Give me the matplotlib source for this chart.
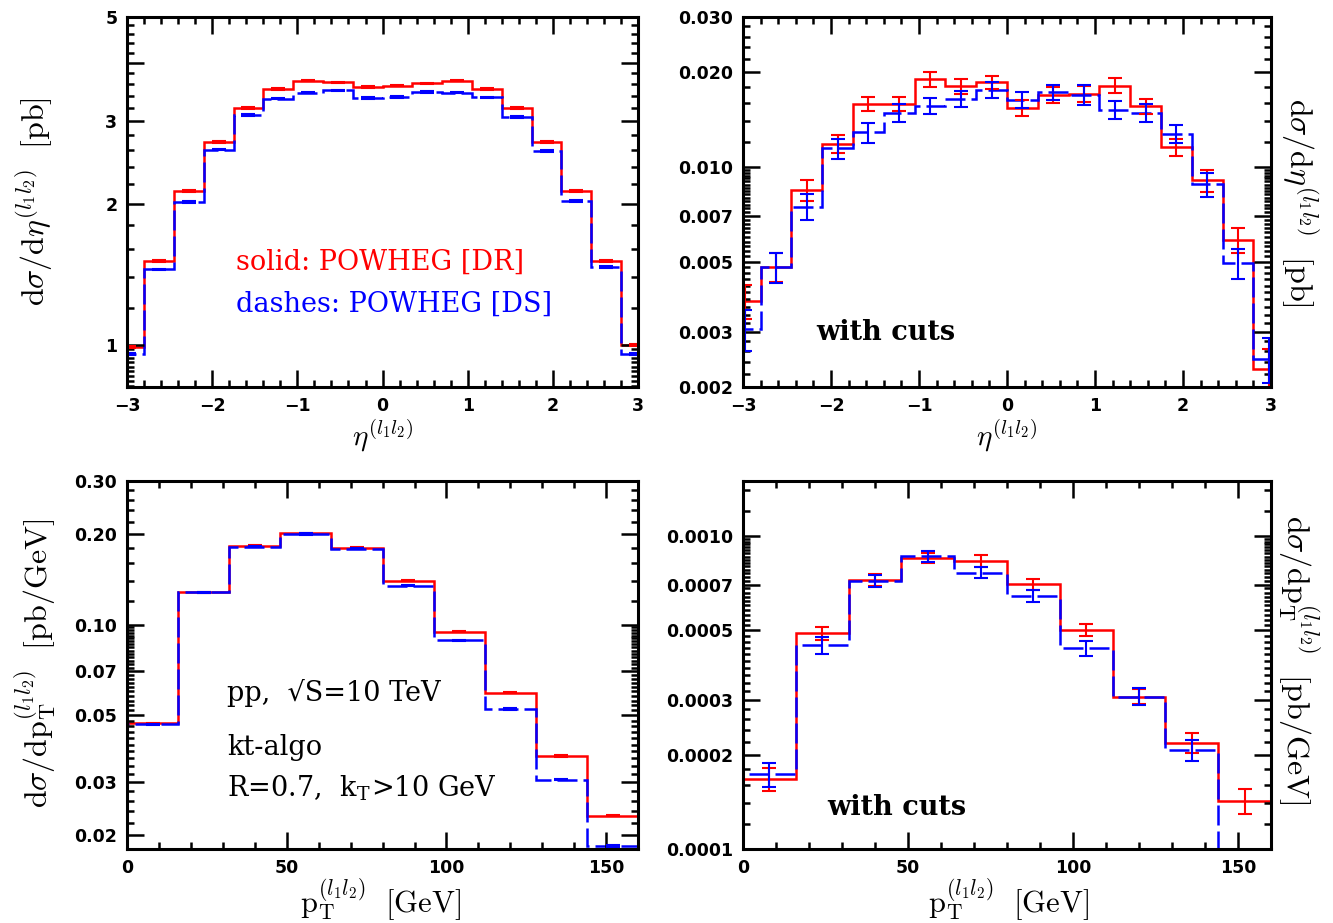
import numpy as np
import matplotlib
matplotlib.use('Agg')
import matplotlib.pyplot as plt
from matplotlib.ticker import FixedLocator, FixedFormatter, NullFormatter

RED = '#ff0000'
BLUE = '#0000ff'

# eta(l1 l2) histograms, bins of 0.35 from -3.15 to 3.15
eta_edges = np.linspace(-3.15, 3.15, 19)
eta_dr = [0.99, 1.51, 2.13, 2.71, 3.20, 3.51, 3.66, 3.63, 3.55, 3.57, 3.61, 3.66, 3.51, 3.20, 2.71, 2.13, 1.51, 1.00]
eta_ds = [0.96, 1.45, 2.02, 2.61, 3.09, 3.35, 3.45, 3.49, 3.36, 3.38, 3.46, 3.45, 3.37, 3.06, 2.59, 2.03, 1.47, 0.96]
eta_dr_err = [0.005, 0.006, 0.008, 0.010, 0.012, 0.013, 0.013, 0.013, 0.013, 0.013, 0.013, 0.013, 0.013, 0.012, 0.010, 0.008, 0.006, 0.005]
eta_ds_err = [0.005, 0.006, 0.008, 0.010, 0.012, 0.013, 0.013, 0.013, 0.013, 0.013, 0.013, 0.013, 0.013, 0.012, 0.010, 0.008, 0.006, 0.005]

# eta(l1 l2) with cuts
cut_eta_dr = [0.00376, 0.00482, 0.00844, 0.01188, 0.01587, 0.0159, 0.01906, 0.01806, 0.01859, 0.01541,
              0.01699, 0.0171, 0.01815, 0.0156, 0.01157, 0.00907, 0.00587, 0.00229]
cut_eta_dr_err = [0.00047, 0.00052, 0.00065, 0.00077, 0.00083, 0.00083, 0.00103, 0.00093, 0.00087, 0.0009,
                  0.00103, 0.00098, 0.001, 0.00089, 0.00075, 0.00071, 0.00055, 0.00035]
cut_eta_ds = [0.00306, 0.0048, 0.00749, 0.01146, 0.01291, 0.01486, 0.01568, 0.0165, 0.01763, 0.01638,
              0.01728, 0.0170, 0.01523, 0.01486, 0.01278, 0.00881, 0.00495, 0.00246]
cut_eta_ds_err = [0.00045, 0.00052, 0.0007, 0.00084, 0.00094, 0.001, 0.00095, 0.001, 0.00106, 0.00096,
                  0.00095, 0.00122, 0.001, 0.00096, 0.00085, 0.00077, 0.00055, 0.0004]

# pT(l1 l2) histograms, bins of 16 GeV
pt_edges = np.linspace(0, 160, 11)
pt_dr = [0.0470, 0.1282, 0.1825, 0.201, 0.1798, 0.1401, 0.0946, 0.0594, 0.0367, 0.0232]
pt_ds = [0.0467, 0.1280, 0.1815, 0.200, 0.1785, 0.1349, 0.0888, 0.0524, 0.0306, 0.0184]
pt_dr_err = [0.0002, 0.0005, 0.0007, 0.0008, 0.0007, 0.0006, 0.0004, 0.0003, 0.0002, 0.0001]
pt_ds_err = [0.0002, 0.0005, 0.0007, 0.0008, 0.0007, 0.0006, 0.0004, 0.0003, 0.0002, 0.0001]

# pT(l1 l2) with cuts
cut_pt_dr = [0.000167, 0.00049, 0.000723, 0.000849, 0.000833, 0.000702, 0.000502, 0.000307, 0.000218, 0.000142]
cut_pt_dr_err = [0.000014, 0.000024, 0.000031, 0.000031, 0.000036, 0.000028, 0.000023, 0.000017, 0.000016, 0.000013]
cut_pt_ds = [0.000173, 0.000449, 0.00072, 0.000861, 0.000764, 0.000644, 0.000439, 0.000307, 0.000207, 0.00005]
cut_pt_ds_err = [0.000015, 0.000028, 0.000031, 0.000035, 0.000032, 0.000029, 0.000024, 0.000019, 0.000016, 0.0]

plt.rcParams['mathtext.fontset'] = 'cm'
TICK_FONT = {'family': 'DejaVu Sans', 'weight': 'bold', 'size': 12.5}


def draw_hist(ax, edges, dr, dr_err, ds, ds_err):
    centers = 0.5 * (edges[1:] + edges[:-1])
    ax.stairs(dr, edges, baseline=1e-9, color=RED, lw=1.8)
    ax.errorbar(centers, dr, yerr=dr_err, fmt='none', ecolor=RED, elinewidth=1.5,
                capsize=5, capthick=1.5)
    ax.stairs(ds, edges, baseline=1e-9, color=BLUE, lw=1.8, linestyle=(0, (8, 2.4)))
    ax.errorbar(centers, ds, yerr=ds_err, fmt='none', ecolor=BLUE, elinewidth=1.5,
                capsize=5, capthick=1.5)


def style_axes(ax, xlim, xmajor, xminor, ylim, ymajor, ylabels, yminor):
    ax.set_yscale('log')
    ax.set_xlim(*xlim)
    ax.set_ylim(*ylim)
    ax.xaxis.set_major_locator(FixedLocator(xmajor))
    ax.xaxis.set_minor_locator(FixedLocator(xminor))
    ax.yaxis.set_major_locator(FixedLocator(ymajor))
    ax.yaxis.set_major_formatter(FixedFormatter(ylabels))
    ax.yaxis.set_minor_locator(FixedLocator(yminor))
    ax.yaxis.set_minor_formatter(NullFormatter())
    ax.tick_params(which='both', direction='in', top=True, right=True, width=1.8)
    ax.tick_params(which='major', length=12, pad=7)
    ax.tick_params(which='minor', length=5)
    for s in ax.spines.values():
        s.set_linewidth(2.2)
    for lab in ax.get_xticklabels() + ax.get_yticklabels():
        lab.set_fontproperties(TICK_FONT)


def minor_list(start, stop, step, skip):
    vals = np.arange(start, stop + step / 2, step)
    return [v for v in vals if not any(abs(v - s) < step / 10 for s in skip)]


fig = plt.figure(figsize=(13.33, 9.23), dpi=100)
ax_tl = fig.add_axes([0.0953, 0.5807, 0.3834, 0.4009])
ax_tr = fig.add_axes([0.5574, 0.5807, 0.3961, 0.4009])
ax_bl = fig.add_axes([0.0953, 0.0802, 0.3834, 0.3987])
ax_br = fig.add_axes([0.5574, 0.0802, 0.3961, 0.3987])

draw_hist(ax_tl, eta_edges, eta_dr, eta_dr_err, eta_ds, eta_ds_err)
draw_hist(ax_tr, eta_edges, cut_eta_dr, cut_eta_dr_err, cut_eta_ds, cut_eta_ds_err)
draw_hist(ax_bl, pt_edges, pt_dr, pt_dr_err, pt_ds, pt_ds_err)
draw_hist(ax_br, pt_edges, cut_pt_dr, cut_pt_dr_err, cut_pt_ds, cut_pt_ds_err)

eta_major = [-3, -2, -1, 0, 1, 2, 3]
eta_minor = minor_list(-3, 3, 0.2, eta_major)
pt_major = [0, 50, 100, 150]
pt_minor = minor_list(0, 160, 10, pt_major)

style_axes(ax_tl, (-3, 3), eta_major, eta_minor, (0.815, 5),
           [1, 2, 3, 4, 5], ['1', '2', '3', '', '5'],
           minor_list(0.82, 0.98, 0.02, []) + minor_list(1.2, 4.8, 0.2, [2, 3, 4]))
style_axes(ax_tr, (-3, 3), eta_major, eta_minor, (0.002, 0.03),
           [0.002, 0.003, 0.005, 0.007, 0.01, 0.02, 0.03],
           ['0.002', '0.003', '0.005', '0.007', '0.010', '0.020', '0.030'],
           minor_list(0.0022, 0.0098, 0.0002, [0.003, 0.005, 0.007]) + minor_list(0.012, 0.028, 0.002, [0.02]))
style_axes(ax_bl, (0, 160), pt_major, pt_minor, (0.018, 0.3),
           [0.02, 0.03, 0.05, 0.07, 0.1, 0.2, 0.3],
           ['0.02', '0.03', '0.05', '0.07', '0.10', '0.20', '0.30'],
           minor_list(0.018, 0.098, 0.002, [0.02, 0.03, 0.05, 0.07]) + minor_list(0.12, 0.28, 0.02, [0.2]))
style_axes(ax_br, (0, 160), pt_major, pt_minor, (0.0001, 0.0015),
           [0.0001, 0.0002, 0.0003, 0.0005, 0.0007, 0.001],
           ['0.0001', '0.0002', '0.0003', '0.0005', '0.0007', '0.0010'],
           minor_list(0.00012, 0.00098, 0.00002, [0.0002, 0.0003, 0.0005, 0.0007]) + minor_list(0.0012, 0.0014, 0.0002, []))

# axis titles
YLAB = 23
eta_ylabel = r'$\mathrm{d}\sigma/\mathrm{d}\eta^{(l_1l_2)}\ \ \mathrm{[pb]}$'
pt_ylabel = r'$\mathrm{d}\sigma/\mathrm{dp}_\mathrm{T}^{(l_1l_2)}\ \ \mathrm{[pb/GeV]}$'
fig.text(34 / 1333, 1 - 202 / 923, eta_ylabel, rotation=90, ha='center', va='center', fontsize=YLAB)
fig.text(1300 / 1333, 1 - 202 / 923, eta_ylabel, rotation=270, ha='center', va='center', fontsize=YLAB)
fig.text(36 / 1333, 1 - 663 / 923, pt_ylabel, rotation=90, ha='center', va='center', fontsize=YLAB)
fig.text(1298 / 1333, 1 - 660 / 923, pt_ylabel, rotation=270, ha='center', va='center', fontsize=YLAB)
fig.text(383 / 1333, 1 - 436 / 923, r'$\eta^{(l_1l_2)}$', ha='center', va='center', fontsize=21)
fig.text(1007 / 1333, 1 - 436 / 923, r'$\eta^{(l_1l_2)}$', ha='center', va='center', fontsize=21)
fig.text(380 / 1333, 1 - 900 / 923, r'$\mathrm{p}_\mathrm{T}^{(l_1l_2)}\ \ \mathrm{[GeV]}$',
         ha='center', va='center', fontsize=22)
fig.text(1008 / 1333, 1 - 900 / 923, r'$\mathrm{p}_\mathrm{T}^{(l_1l_2)}\ \ \mathrm{[GeV]}$',
         ha='center', va='center', fontsize=22)

# annotations
NOTE = dict(fontfamily='DejaVu Serif', fontsize=19.5, ha='left', va='center')
ax_tl.text(0.213, 0.338, 'solid: POWHEG [DR]', color=RED, transform=ax_tl.transAxes, **NOTE)
ax_tl.text(0.213, 0.224, 'dashes: POWHEG [DS]', color=BLUE, transform=ax_tl.transAxes, **NOTE)
ax_tr.text(0.138, 0.146, 'with cuts', color='black', fontweight='bold', transform=ax_tr.transAxes, **NOTE)
ax_bl.text(0.196, 0.424, 'pp,  \u221aS=10 TeV', transform=ax_bl.transAxes, **NOTE)
ax_bl.text(0.196, 0.277, 'kt-algo', transform=ax_bl.transAxes, **NOTE)
ax_bl.text(0.196, 0.166, r'R=0.7,  k$_\mathregular{T}$>10 GeV', transform=ax_bl.transAxes, **NOTE)
ax_br.text(0.159, 0.114, 'with cuts', fontweight='bold', transform=ax_br.transAxes, **NOTE)

fig.savefig('out.png', dpi=100)
